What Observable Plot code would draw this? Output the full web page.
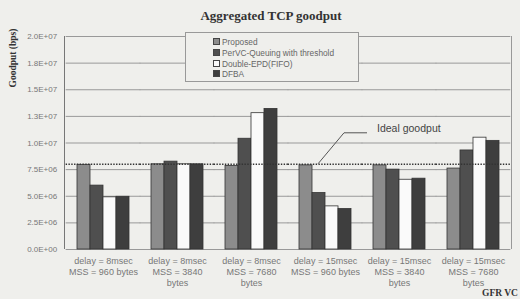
<!DOCTYPE html>
<html>
<head>
<meta charset="utf-8">
<script src="https://cdn.jsdelivr.net/npm/d3@7"></script>
<script src="https://cdn.jsdelivr.net/npm/@observablehq/plot@0.6"></script>
<style>
  html, body { margin: 0; padding: 0; background: #efefec; }
  #wrap { position: relative; width: 520px; height: 299px; overflow: hidden; font-family: "Liberation Sans", Arial, sans-serif; }
  #title { position: absolute; left: 0; width: 542px; top: 8px; text-align: center; font-family: "Liberation Serif", serif; font-weight: bold; font-size: 13px; color: #333; }
  #ytitle { position: absolute; left: 13px; top: 58px; transform: translate(-50%, -50%) rotate(-90deg); white-space: nowrap; font-family: "Liberation Serif", serif; font-weight: bold; font-size: 9.5px; color: #333; }
  #xtitle { position: absolute; left: 482px; top: 288px; white-space: nowrap; font-family: "Liberation Serif", serif; font-weight: bold; font-size: 9.5px; color: #333; }
  #legend { position: absolute; left: 185px; top: 32px; width: 174px; height: 50px; border: 1px solid #999; background: #efefec; box-sizing: border-box; }
  .li { position: absolute; left: 27px; font-size: 8.3px; color: #666; white-space: nowrap; line-height: 10px; }
  .sw { display: inline-block; width: 5px; height: 5px; border: 1px solid #444; margin-right: 2px; vertical-align: 0px; }
</style>
</head>
<body>
<div id="wrap">
  <div id="chart"></div>
  <div id="title">Aggregated TCP goodput</div>
  <div id="ytitle">Goodput (bps)</div>
  <div id="xtitle">GFR VC</div>
  <div id="legend"></div>
</div>
<script>
// ---- data ----
const groupKeys = ["d8_960", "d8_3840", "d8_7680", "d15_960", "d15_3840", "d15_7680"];
const groupLabels = [
  "delay = 8msec\nMSS = 960 bytes",
  "delay = 8msec\nMSS = 3840\nbytes",
  "delay = 8msec\nMSS = 7680\nbytes",
  "delay = 15msec\nMSS = 960 bytes",
  "delay = 15msec\nMSS = 3840\nbytes",
  "delay = 15msec\nMSS = 7680\nbytes"
];
const seriesNames = ["Proposed", "PerVC-Queuing with threshold", "Double-EPD(FIFO)", "DFBA"];
const proposed  = [7.95e6, 8.0e6, 7.85e6, 7.9e6, 7.9e6, 7.6e6];
const perVC     = [6.0e6, 8.25e6, 1.04e7, 5.3e6, 7.5e6, 9.3e6];
const doubleEPD = [4.9e6, 8.0e6, 1.28e7, 4.05e6, 6.55e6, 1.05e7];
const dfba      = [4.95e6, 8.0e6, 1.32e7, 3.8e6, 6.65e6, 1.02e7];
const idealGoodput = 8.0e6;
const yTicks = [0, 2.5e6, 5e6, 7.5e6, 1e7, 1.25e7, 1.5e7, 1.75e7, 2e7];
const yTickLabels = ["0.0E+00", "2.5E+06", "5.0E+06", "7.5E+06", "1.0E+07", "1.3E+07", "1.5E+07", "1.8E+07", "2.0E+07"];
const seriesColors = ["#8c8c8c", "#4f4f4f", "#fafafa", "#3e3e3e"];

// ---- table ----
const seriesValues = [proposed, perVC, doubleEPD, dfba];
const rows = groupKeys.flatMap((g, i) => seriesNames.map((s, j) => ({group: g, series: s, value: seriesValues[j][i]})));

const W = 520, H = 299, mL = 64, mR = 8, mT = 36, mB = 50;
const padIn = 0.277, padOut = 0.139;
const step = (W - mL - mR) / (groupKeys.length - padIn + 2 * padOut);
const halfGap = step * padIn / 2;

const plot = Plot.plot({
  width: W,
  height: H,
  marginTop: mT,
  marginRight: mR,
  marginBottom: mB,
  marginLeft: mL,
  style: {background: "transparent", fontFamily: "Liberation Sans, Arial, sans-serif", fontSize: "8px", color: "#777"},
  fx: {domain: groupKeys, paddingInner: padIn, paddingOuter: padOut, label: null, axis: null},
  x: {domain: seriesNames, padding: 0, axis: null},
  y: {domain: [0, 2e7], label: null, axis: null},
  color: {domain: seriesNames, range: seriesColors},
  marks: [
    Plot.ruleY(yTicks, {stroke: "#999", strokeWidth: 1, insetLeft: -halfGap, insetRight: -halfGap}),
    Plot.barY(rows, {fx: "group", x: "series", y: "value", fill: "series", stroke: "#333", strokeWidth: 0.8}),
    Plot.ruleY([idealGoodput], {stroke: "#333", strokeWidth: 1.6, strokeDasharray: "1.4 1.4", insetLeft: -halfGap, insetRight: -halfGap}),
    Plot.axisY({ticks: yTicks, tickFormat: d => yTickLabels[yTicks.indexOf(d)], tickSize: 0, tickPadding: 9 + halfGap, label: null, fill: "#777", fontSize: 8}),
    Plot.axisFx({anchor: "bottom", tickSize: 0, tickPadding: 7, lineHeight: 1.22, label: null, fill: "#777", fontSize: 9,
      tickFormat: d => groupLabels[groupKeys.indexOf(d)]})
  ]
});
document.getElementById("chart").appendChild(plot);

// ---- frame edges and annotation ----
const fxS = plot.scale("fx");
const yS = plot.scale("y");
const [fx0, fx1] = fxS.range;
const [y0, y1] = yS.range;
const svg = d3.select(plot);
svg.append("line").attr("x1", fx0 + 0.5).attr("x2", fx0 + 0.5).attr("y1", y0).attr("y2", y1).attr("stroke", "#777");
svg.append("line").attr("x1", fx1 - 0.5).attr("x2", fx1 - 0.5).attr("y1", y0).attr("y2", y1).attr("stroke", "#999");

const gx = fxS.apply(groupKeys[3]);
const yi = yS.apply(idealGoodput);
svg.append("path")
  .attr("d", `M${gx + 20},${yi} L${gx + 46},${yi - 31} L${gx + 69},${yi - 31}`)
  .attr("fill", "none").attr("stroke", "#555").attr("stroke-width", 1);
svg.append("text")
  .attr("x", gx + 79).attr("y", yi - 32)
  .attr("text-anchor", "start")
  .attr("font-size", 10.5).attr("fill", "#444").attr("font-family", "Liberation Sans, Arial, sans-serif")
  .text("Ideal goodput");

// ---- legend ----
const leg = document.getElementById("legend");
seriesNames.forEach((s, i) => {
  const d = document.createElement("div");
  d.className = "li";
  d.style.top = (4 + i * 10.8) + "px";
  d.innerHTML = `<span class="sw" style="background:${seriesColors[i]}"></span>${s}`;
  leg.appendChild(d);
});
</script>
</body>
</html>
